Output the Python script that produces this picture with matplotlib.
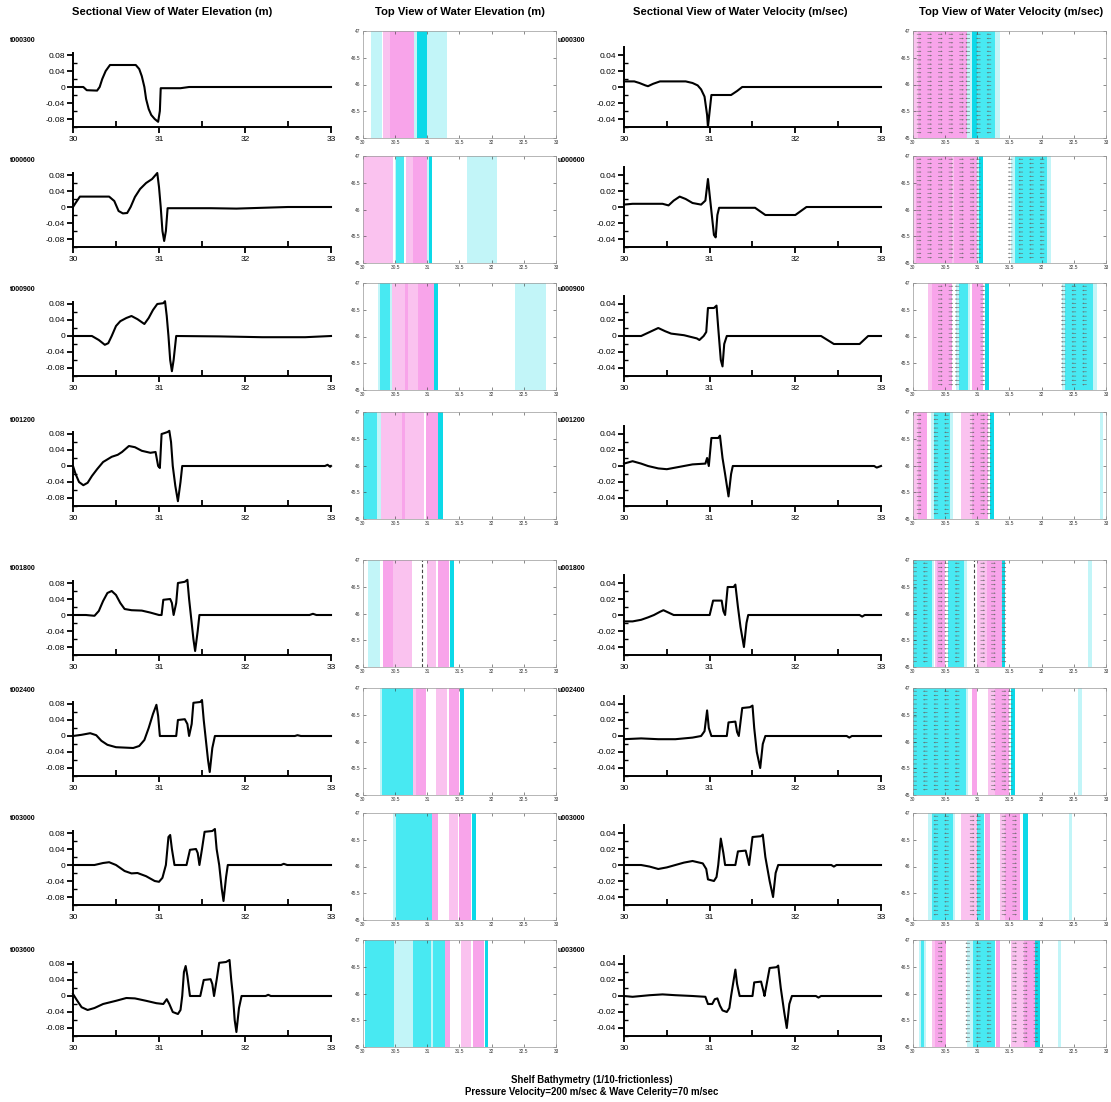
import numpy as np
import matplotlib
matplotlib.use('Agg')
import matplotlib.pyplot as plt
from matplotlib.ticker import FixedLocator, FuncFormatter

plt.rcParams['font.family'] = ['Liberation Sans', 'DejaVu Sans']

W, H = 1111, 1102

times = ['000300', '000600', '000900', '001200', '001800', '002400', '003000', '003600']

# water elevation along the section (x, eta [m])
eta_000300 = [(30.0, 0.0), (30.12, 0.0), (30.16, -0.008), (30.28, -0.009), (30.31, 0.0), (30.34, 0.02),
              (30.38, 0.04), (30.43, 0.055), (30.73, 0.055), (30.77, 0.045), (30.80, 0.027), (30.83, 0.0),
              (30.85, -0.03), (30.88, -0.055), (30.91, -0.07), (30.95, -0.08), (30.99, -0.087), (31.01, -0.06),
              (31.02, -0.003), (31.25, -0.003), (31.35, 0.0), (33.0, 0.0)]
eta_000600 = [(30.0, 0.0), (30.03, 0.01), (30.08, 0.026), (30.42, 0.026), (30.48, 0.015), (30.53, -0.01),
              (30.58, -0.016), (30.63, -0.015), (30.67, 0.0), (30.72, 0.025), (30.78, 0.045), (30.85, 0.06),
              (30.92, 0.07), (30.98, 0.085), (31.0, 0.05), (31.02, 0.0), (31.04, -0.06), (31.06, -0.085),
              (31.08, -0.06), (31.1, -0.003), (31.6, -0.003), (31.9, -0.004), (32.2, -0.002), (32.5, 0.0),
              (33.0, 0.0)]
eta_000900 = [(30.0, 0.0), (30.22, 0.0), (30.3, -0.01), (30.37, -0.022), (30.41, -0.018), (30.45, 0.0),
              (30.5, 0.025), (30.55, 0.037), (30.62, 0.045), (30.68, 0.05), (30.75, 0.042), (30.83, 0.03),
              (30.88, 0.045), (30.93, 0.065), (30.98, 0.08), (31.05, 0.082), (31.07, 0.087), (31.09, 0.05),
              (31.11, 0.0), (31.13, -0.06), (31.15, -0.088), (31.17, -0.06), (31.2, 0.0), (31.7, -0.001),
              (32.2, -0.003), (32.7, -0.003), (33.0, 0.0)]
eta_001200 = [(30.0, 0.0), (30.03, -0.02), (30.07, -0.04), (30.12, -0.048), (30.17, -0.042), (30.22, -0.025),
              (30.28, -0.008), (30.35, 0.01), (30.45, 0.023), (30.52, 0.028), (30.57, 0.035), (30.65, 0.05),
              (30.72, 0.047), (30.8, 0.038), (30.9, 0.033), (30.96, 0.035), (30.99, 0.0), (31.01, -0.005),
              (31.03, 0.08), (31.06, 0.082), (31.1, 0.085), (31.12, 0.088), (31.14, 0.06), (31.16, 0.0),
              (31.19, -0.05), (31.22, -0.088), (31.25, -0.04), (31.27, 0.0), (32.93, 0.0), (32.96, 0.003),
              (32.99, -0.002), (33.0, 0.0)]
eta_001800 = [(30.0, 0.0), (30.15, 0.0), (30.25, -0.002), (30.3, 0.01), (30.35, 0.035), (30.4, 0.055),
              (30.45, 0.06), (30.5, 0.05), (30.55, 0.03), (30.6, 0.015), (30.68, 0.012), (30.8, 0.011),
              (30.9, 0.006), (31.0, 0.0), (31.03, 0.0), (31.05, 0.038), (31.13, 0.04), (31.15, 0.03),
              (31.17, 0.0), (31.2, 0.03), (31.22, 0.08), (31.3, 0.083), (31.33, 0.088), (31.35, 0.04),
              (31.37, 0.0), (31.4, -0.06), (31.42, -0.09), (31.45, -0.04), (31.47, 0.0), (32.75, 0.0),
              (32.79, 0.003), (32.83, 0.0), (33.0, 0.0)]
eta_002400 = [(30.0, 0.0), (30.1, 0.003), (30.2, 0.007), (30.27, 0.002), (30.33, -0.012), (30.4, -0.022),
              (30.5, -0.028), (30.7, -0.03), (30.77, -0.025), (30.83, -0.01), (30.88, 0.02), (30.93, 0.055),
              (30.97, 0.078), (30.99, 0.05), (31.01, 0.0), (31.2, 0.0), (31.22, 0.04), (31.3, 0.042),
              (31.33, 0.03), (31.35, 0.0), (31.38, 0.03), (31.4, 0.083), (31.48, 0.085), (31.5, 0.09),
              (31.52, 0.04), (31.54, 0.0), (31.57, -0.06), (31.59, -0.09), (31.62, -0.03), (31.65, 0.0),
              (32.58, 0.0), (32.61, 0.002), (32.65, 0.0), (33.0, 0.0)]
eta_003000 = [(30.0, 0.0), (30.25, 0.0), (30.35, 0.005), (30.42, 0.007), (30.5, 0.0), (30.6, -0.015),
              (30.68, -0.021), (30.75, -0.02), (30.85, -0.028), (30.95, -0.04), (31.0, -0.042), (31.04, -0.032),
              (31.08, 0.0), (31.11, 0.07), (31.13, 0.075), (31.15, 0.04), (31.18, 0.0), (31.32, 0.0),
              (31.36, 0.038), (31.43, 0.04), (31.45, 0.03), (31.47, 0.0), (31.5, 0.04), (31.53, 0.083),
              (31.62, 0.085), (31.65, 0.09), (31.67, 0.04), (31.7, 0.0), (31.73, -0.06), (31.75, -0.09),
              (31.78, -0.03), (31.8, 0.0), (32.42, 0.0), (32.45, 0.003), (32.49, 0.0), (33.0, 0.0)]
eta_003600 = [(30.0, 0.005), (30.05, -0.012), (30.1, -0.028), (30.17, -0.035), (30.25, -0.03), (30.35, -0.02),
              (30.5, -0.012), (30.62, -0.005), (30.72, -0.006), (30.85, -0.012), (30.97, -0.018), (31.05, -0.02),
              (31.09, -0.008), (31.12, -0.02), (31.16, -0.04), (31.22, -0.045), (31.25, -0.035), (31.27, 0.0),
              (31.29, 0.06), (31.31, 0.075), (31.33, 0.05), (31.36, 0.0), (31.48, 0.0), (31.52, 0.04),
              (31.6, 0.042), (31.62, 0.03), (31.64, 0.0), (31.67, 0.04), (31.7, 0.083), (31.78, 0.085),
              (31.82, 0.09), (31.84, 0.04), (31.86, 0.0), (31.88, -0.06), (31.9, -0.09), (31.93, -0.03),
              (31.96, 0.0), (32.24, 0.0), (32.27, 0.003), (32.3, 0.0), (33.0, 0.0)]

# depth-averaged velocity along the section (x, u [m/sec])
vel_000300 = [(30.0, 0.007), (30.12, 0.007), (30.18, 0.005), (30.25, 0.002), (30.28, 0.001), (30.34, 0.004),
              (30.42, 0.007), (30.72, 0.007), (30.8, 0.005), (30.86, 0.002), (30.9, -0.003), (30.94, -0.012),
              (30.97, -0.035), (30.98, -0.05), (31.0, -0.03), (31.02, -0.01), (31.25, -0.01), (31.32, -0.005),
              (31.38, 0.0), (33.0, 0.0)]
vel_000600 = [(30.0, 0.003), (30.1, 0.004), (30.45, 0.004), (30.52, 0.002), (30.58, 0.008), (30.65, 0.013),
              (30.72, 0.01), (30.8, 0.005), (30.9, 0.003), (30.95, 0.008), (30.98, 0.035), (31.0, 0.015),
              (31.02, -0.005), (31.05, -0.035), (31.07, -0.038), (31.09, -0.01), (31.11, -0.001), (31.53, -0.001),
              (31.65, -0.01), (32.0, -0.01), (32.13, 0.0), (33.0, 0.0)]
vel_000900 = [(30.0, 0.0), (30.2, 0.0), (30.3, 0.005), (30.4, 0.01), (30.48, 0.006), (30.55, 0.003),
              (30.7, 0.001), (30.85, -0.003), (30.88, -0.005), (30.93, 0.0), (30.96, 0.005), (30.98, 0.035),
              (31.05, 0.035), (31.08, 0.038), (31.1, 0.01), (31.13, -0.03), (31.15, -0.038), (31.17, -0.01),
              (31.2, 0.0), (32.3, 0.0), (32.45, -0.01), (32.75, -0.01), (32.85, 0.0), (33.0, 0.0)]
vel_001200 = [(30.0, 0.003), (30.1, 0.006), (30.2, 0.003), (30.28, 0.0), (30.4, -0.003), (30.5, -0.004),
              (30.6, -0.002), (30.7, 0.0), (30.8, 0.002), (30.95, 0.003), (30.97, 0.01), (30.99, 0.0),
              (31.02, 0.035), (31.1, 0.035), (31.12, 0.038), (31.15, 0.01), (31.18, -0.01), (31.22, -0.038),
              (31.25, -0.01), (31.27, 0.0), (32.92, 0.0), (32.95, -0.002), (33.0, 0.0)]
vel_001800 = [(30.0, -0.008), (30.1, -0.008), (30.2, -0.006), (30.28, -0.003), (30.35, 0.0), (30.42, 0.004),
              (30.46, 0.006), (30.52, 0.003), (30.58, 0.0), (31.0, 0.0), (31.04, 0.018), (31.14, 0.018),
              (31.16, 0.005), (31.18, 0.0), (31.21, 0.035), (31.28, 0.035), (31.3, 0.038), (31.33, 0.01),
              (31.36, -0.015), (31.4, -0.04), (31.43, -0.01), (31.45, 0.0), (32.75, 0.0), (32.78, -0.002),
              (32.81, 0.0), (33.0, 0.0)]
vel_002400 = [(30.0, -0.004), (30.2, -0.003), (30.4, -0.004), (30.6, -0.004), (30.8, -0.002), (30.9, 0.0),
              (30.94, 0.006), (30.97, 0.032), (30.99, 0.01), (31.02, 0.0), (31.2, 0.0), (31.22, 0.017),
              (31.3, 0.018), (31.32, 0.005), (31.34, 0.0), (31.38, 0.035), (31.47, 0.036), (31.5, 0.038),
              (31.52, 0.01), (31.55, -0.02), (31.59, -0.04), (31.62, -0.01), (31.65, 0.0), (32.6, 0.0),
              (32.63, -0.002), (32.66, 0.0), (33.0, 0.0)]
vel_003000 = [(30.0, 0.0), (30.2, 0.0), (30.3, -0.002), (30.4, -0.005), (30.5, -0.003), (30.6, 0.0),
              (30.7, 0.003), (30.8, 0.005), (30.92, 0.002), (30.96, -0.005), (30.98, -0.018), (31.05, -0.02),
              (31.08, -0.015), (31.1, 0.0), (31.13, 0.033), (31.16, 0.015), (31.18, 0.0), (31.3, 0.0),
              (31.33, 0.017), (31.42, 0.018), (31.45, 0.005), (31.46, 0.0), (31.5, 0.035), (31.6, 0.036),
              (31.62, 0.038), (31.65, 0.01), (31.7, -0.02), (31.74, -0.04), (31.77, -0.01), (31.8, 0.0),
              (32.42, 0.0), (32.45, -0.002), (32.48, 0.0), (33.0, 0.0)]
vel_003600 = [(30.0, 0.0), (30.1, -0.001), (30.3, 0.001), (30.45, 0.002), (30.6, 0.001), (30.8, 0.0),
              (30.95, -0.001), (30.98, -0.01), (31.03, -0.01), (31.06, -0.004), (31.09, -0.003), (31.12, -0.012),
              (31.15, -0.018), (31.2, -0.02), (31.23, -0.015), (31.25, 0.0), (31.3, 0.033), (31.32, 0.015),
              (31.35, 0.0), (31.5, 0.0), (31.52, 0.017), (31.6, 0.018), (31.63, 0.005), (31.64, 0.0),
              (31.7, 0.035), (31.78, 0.036), (31.8, 0.038), (31.83, 0.01), (31.87, -0.02), (31.9, -0.04),
              (31.93, -0.01), (31.96, 0.0), (32.24, 0.0), (32.27, -0.002), (32.3, 0.0), (33.0, 0.0)]

# plan view colour bands (x0, x1, shade)
eta_top_000300 = [(30.13, 30.30, 'lc'), (30.31, 30.42, 'lp'), (30.42, 30.79, 'p'), (30.80, 30.84, 'lc'),
                  (30.84, 31.0, 'dc'), (31.0, 31.31, 'lc')]
eta_top_000600 = [(30.0, 30.46, 'lp'), (30.49, 30.52, 'lc'), (30.52, 30.64, 'c'), (30.67, 30.77, 'lp'),
                  (30.77, 30.99, 'p'), (30.99, 31.02, 'lc'), (31.02, 31.08, 'dc'), (31.62, 32.08, 'lc')]
eta_top_000900 = [(30.23, 30.26, 'lc'), (30.26, 30.42, 'c'), (30.42, 30.45, 'lc'), (30.45, 30.65, 'lp'),
                  (30.65, 30.70, 'p'), (30.70, 30.86, 'lp'), (30.86, 31.10, 'p'), (31.10, 31.16, 'dc'),
                  (32.37, 32.84, 'lc')]
eta_top_001200 = [(30.0, 30.21, 'c'), (30.21, 30.28, 'lc'), (30.28, 30.6, 'lp'), (30.6, 30.65, 'p'),
                  (30.65, 30.95, 'lp'), (30.98, 31.17, 'p'), (31.17, 31.25, 'dc')]
eta_top_001800 = [(30.07, 30.26, 'lc'), (30.31, 30.47, 'p'), (30.47, 30.76, 'lp'), (30.99, 31.14, 'lp'),
                  (31.17, 31.34, 'p'), (31.35, 31.42, 'dc')]
eta_top_002400 = [(30.26, 30.29, 'lc'), (30.29, 30.77, 'c'), (30.77, 30.82, 'lp'), (30.82, 30.98, 'p'),
                  (31.13, 31.30, 'lp'), (31.33, 31.5, 'p'), (31.51, 31.57, 'dc')]
eta_top_003000 = [(30.47, 30.51, 'lc'), (30.51, 31.07, 'c'), (31.08, 31.16, 'p'), (31.33, 31.47, 'lp'),
                  (31.5, 31.68, 'p'), (31.70, 31.76, 'dc')]
eta_top_003600 = [(30.03, 30.48, 'c'), (30.48, 30.77, 'lc'), (30.78, 31.06, 'c'), (31.06, 31.09, 'lc'),
                  (31.09, 31.27, 'c'), (31.28, 31.35, 'p'), (31.53, 31.68, 'lp'), (31.71, 31.88, 'p'),
                  (31.89, 31.95, 'dc')]

vel_top_000300 = [(30.0, 30.08, 'lp'), (30.08, 30.84, 'p'), (30.84, 30.92, 'lc'), (30.92, 30.99, 'dc'),
                  (30.99, 31.27, 'c'), (31.27, 31.35, 'lc')]
vel_top_000600 = [(30.0, 30.05, 'lp'), (30.05, 30.6, 'p'), (30.6, 30.64, 'lp'), (30.64, 30.99, 'p'),
                  (30.99, 31.03, 'lc'), (31.03, 31.09, 'dc'), (31.52, 31.58, 'lc'), (31.58, 32.08, 'c'),
                  (32.08, 32.14, 'lc')]
vel_top_000900 = [(30.23, 30.29, 'lp'), (30.29, 30.6, 'p'), (30.67, 30.71, 'lc'), (30.71, 30.85, 'c'),
                  (30.85, 30.88, 'lc'), (30.92, 31.09, 'p'), (31.12, 31.18, 'dc'), (32.31, 32.36, 'lc'),
                  (32.36, 32.8, 'c'), (32.8, 32.86, 'lc')]
vel_top_001200 = [(30.0, 30.08, 'lp'), (30.08, 30.21, 'p'), (30.28, 30.32, 'lc'), (30.32, 30.58, 'c'),
                  (30.58, 30.62, 'lc'), (30.74, 30.92, 'lp'), (30.92, 31.17, 'p'), (31.19, 31.26, 'dc'),
                  (32.91, 32.96, 'lc')]
vel_top_001800 = [(30.0, 30.29, 'c'), (30.29, 30.33, 'lc'), (30.34, 30.37, 'lp'), (30.37, 30.49, 'p'),
                  (30.55, 30.79, 'c'), (30.79, 30.84, 'lc'), (30.99, 31.15, 'lp'), (31.15, 31.38, 'p'),
                  (31.38, 31.43, 'dc'), (32.72, 32.79, 'lc')]
vel_top_002400 = [(30.0, 30.82, 'c'), (30.82, 30.86, 'lc'), (30.92, 31.0, 'p'), (31.16, 31.27, 'lp'),
                  (31.27, 31.5, 'p'), (31.52, 31.59, 'dc'), (32.57, 32.62, 'lc')]
vel_top_003000 = [(30.23, 30.29, 'lc'), (30.29, 30.62, 'c'), (30.62, 30.65, 'lc'), (30.74, 30.99, 'lp'),
                  (30.99, 31.1, 'c'), (31.12, 31.19, 'p'), (31.35, 31.43, 'lp'), (31.43, 31.66, 'p'),
                  (31.71, 31.79, 'dc'), (32.43, 32.47, 'lc')]
vel_top_003600 = [(30.09, 30.13, 'lc'), (30.13, 30.17, 'c'), (30.17, 30.2, 'lc'), (30.29, 30.34, 'lp'),
                  (30.34, 30.52, 'p'), (30.84, 30.94, 'lc'), (30.94, 31.28, 'c'), (31.29, 31.36, 'p'),
                  (31.52, 31.72, 'lp'), (31.72, 31.89, 'p'), (31.89, 31.97, 'dc'), (32.25, 32.3, 'lc')]

# wave-front marker shown in the t001800 plan views
front_eta_001800 = 30.92
front_vel_001800 = 30.95

eta_sections = [eta_000300, eta_000600, eta_000900, eta_001200, eta_001800, eta_002400, eta_003000, eta_003600]
vel_sections = [vel_000300, vel_000600, vel_000900, vel_001200, vel_001800, vel_002400, vel_003000, vel_003600]
eta_tops = [eta_top_000300, eta_top_000600, eta_top_000900, eta_top_001200,
            eta_top_001800, eta_top_002400, eta_top_003000, eta_top_003600]
vel_tops = [vel_top_000300, vel_top_000600, vel_top_000900, vel_top_001200,
            vel_top_001800, vel_top_002400, vel_top_003000, vel_top_003600]

shade = {'lc': '#c2f5f8', 'c': '#48e9f2', 'dc': '#0cd9e8',
         'lp': '#fac2ef', 'p': '#f8a4ea', 'dp': '#f48de3'}
sign = {'lc': -1, 'c': -1, 'dc': -1, 'lp': 1, 'p': 1, 'dp': 1}

# layout in pixels
zero_px = [87, 207, 336, 466, 615, 736, 865, 996]
top_px = [31, 156, 283, 412, 560, 688, 813, 940]

fig = plt.figure(figsize=(W / 100, H / 100), dpi=100)


def px_axes(left, top, width, height):
    return fig.add_axes([left / W, 1 - (top + height) / H, width / W, height / H])


def fmt(v, pos):
    return '0' if abs(v) < 1e-9 else f'{v:.2f}'


def section(ax, pts, ylim, major, minor):
    x, y = zip(*pts)
    ax.plot(x, y, color='black', lw=1.5, solid_joinstyle='round', clip_on=False)
    ax.set_xlim(30, 33)
    ax.set_ylim(*ylim)
    for s in ('top', 'right'):
        ax.spines[s].set_visible(False)
    for s in ('left', 'bottom'):
        ax.spines[s].set_linewidth(1.4)
    ax.xaxis.set_major_locator(FixedLocator([30, 31, 32, 33]))
    ax.xaxis.set_minor_locator(FixedLocator([30.5, 31.5, 32.5]))
    ax.yaxis.set_major_locator(FixedLocator(major))
    ax.yaxis.set_minor_locator(FixedLocator(minor))
    ax.yaxis.set_major_formatter(FuncFormatter(fmt))
    ax.tick_params(axis='x', which='major', direction='out', length=4, width=1.3, labelsize=6, pad=2.5)
    ax.tick_params(axis='x', which='minor', direction='in', length=4, width=1.3)
    ax.tick_params(axis='y', which='major', direction='out', length=4, width=1.3, labelsize=6, pad=1.5)
    ax.tick_params(axis='y', which='minor', direction='in', length=3, width=1.0)
    ax.patch.set_alpha(0)


xs_grid = np.arange(30.06, 33.0, 0.165)
ys_grid = np.arange(45.1, 46.95, 0.08)


def top_view(ax, bands, arrows=False, front=None):
    for x0, x1, k in bands:
        ax.axvspan(x0, x1, color=shade[k], lw=0)
    if arrows:
        X, Y, U = [], [], []
        for x in xs_grid:
            for x0, x1, k in bands:
                if x0 <= x <= x1:
                    for y in ys_grid:
                        X.append(x)
                        Y.append(y)
                        U.append(0.07 * sign[k])
                    break
        if X:
            ax.quiver(X, Y, U, np.zeros(len(U)), angles='xy', scale_units='xy', scale=1,
                      width=0.003, headwidth=3, headlength=3, headaxislength=2.6, color='#666666')
    if front is not None:
        ax.axvline(front, color='#444444', lw=0.8, ls=(0, (3, 2)))
    ax.set_xlim(30, 33)
    ax.set_ylim(45, 47)
    ax.set_xticks([30, 30.5, 31, 31.5, 32, 32.5, 33])
    ax.set_yticks([45, 45.5, 46, 46.5, 47])
    ax.xaxis.set_major_formatter(FuncFormatter(lambda v, p: f'{v:g}'))
    ax.yaxis.set_major_formatter(FuncFormatter(lambda v, p: f'{v:g}'))
    ax.tick_params(which='both', direction='in', length=2, width=0.4, labelsize=3.5, pad=1.5,
                   colors='#333333', top=True, right=True)
    for s in ax.spines.values():
        s.set_linewidth(0.5)
        s.set_color('#999999')


for i, t in enumerate(times):
    z = zero_px[i]
    ax = px_axes(73, z - 34, 258, 74)
    section(ax, eta_sections[i], (-0.1, 0.085), [-0.08, -0.04, 0, 0.04, 0.08], [-0.1, -0.06, -0.02, 0.02, 0.06])
    ax = px_axes(624, z - 40, 257, 80)
    section(ax, vel_sections[i], (-0.05, 0.05), [-0.04, -0.02, 0, 0.02, 0.04], [-0.05, -0.03, -0.01, 0.01, 0.03])

    ax = px_axes(363, top_px[i], 193, 107)
    top_view(ax, eta_tops[i], front=front_eta_001800 if t == '001800' else None)
    ax = px_axes(913, top_px[i], 193, 107)
    top_view(ax, vel_tops[i], arrows=True, front=front_vel_001800 if t == '001800' else None)

    fig.text(10 / W, 1 - (z - 46) / H, 't' + t, fontsize=5, weight='bold', va='center')
    fig.text(558 / W, 1 - (z - 46) / H, 'u' + t, fontsize=5, weight='bold', va='center')

titles = ['Sectional View of Water Elevation (m)', 'Top View of Water Elevation (m)',
          'Sectional View of Water Velocity (m/sec)', 'Top View of Water Velocity (m/sec)']
for cx, s in zip([172, 460, 740, 1011], titles):
    fig.text(cx / W, 1 - 12 / H, s, fontsize=8.1, weight='bold', ha='center', va='center')

fig.text(592 / W, 1 - 1080 / H, 'Shelf Bathymetry (1/10-frictionless)', fontsize=6.9, weight='bold',
         ha='center', va='center')
fig.text(592 / W, 1 - 1092 / H, 'Pressure Velocity=200 m/sec & Wave Celerity=70 m/sec', fontsize=6.9,
         weight='bold', ha='center', va='center')

fig.savefig('out.png', dpi=100, facecolor='white')
